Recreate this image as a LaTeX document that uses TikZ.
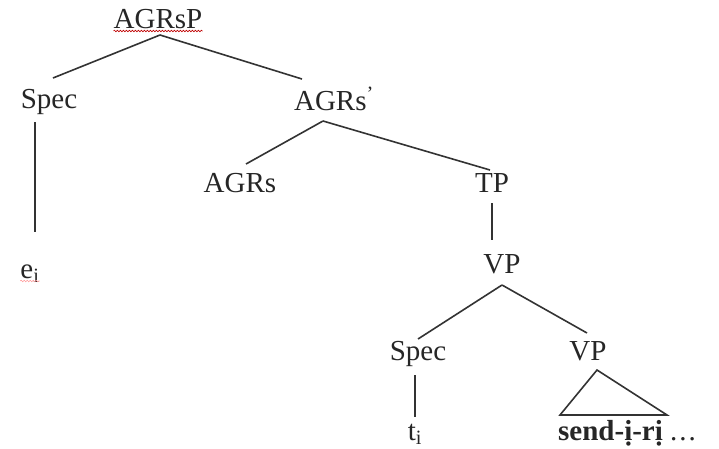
\documentclass[tikz,border=0pt]{standalone}
\usepackage{fontspec}
\setmainfont{Liberation Serif}
\usetikzlibrary{decorations.pathmorphing}
\begin{document}
\begin{tikzpicture}[x=1pt,y=-1pt,
  lbl/.style={font=\fontsize{29}{34}\selectfont, inner sep=0pt, anchor=base, text=black!85},
  edge/.style={line width=1.6pt, draw=black!80},
  squig/.style={draw=red!75!black, line width=0.6pt, decorate,
    decoration={snake, amplitude=0.8pt, segment length=3pt}}]
\useasboundingbox (0,0) rectangle (719,448);
\node[lbl] (agrsp) at (158,28) {AGRsP};
\node[lbl] (spec1) at (49,108) {Spec};
\node[lbl] (ei) at (30,278) {e\textsubscript{i}};
\node[lbl] (agrsbar) at (334,110) {AGRs\textsuperscript{'}};
\node[lbl] (agrs) at (240,192) {AGRs};
\node[lbl] (tp) at (492,192) {TP};
\node[lbl] (vp1) at (502,273) {VP};
\node[lbl] (spec2) at (418,360) {Spec};
\node[lbl] (vp2) at (588,360) {VP};
\node[lbl] (ti) at (415,440) {t\textsubscript{i}};
\node[lbl, anchor=base west] (send) at (558,440) {\textbf{send-ị-rị} .\hspace{2pt}.\hspace{2pt}.};
% spell-check squiggles
\draw[squig] ([yshift=-3pt]agrsp.base west) -- ([yshift=-3pt]agrsp.base east);
\draw[squig, draw=red!40] ([yshift=-3pt]ei.base west) -- ([yshift=-3pt]ei.base east);
% edges
\draw[edge] ([shift={(2pt,-7pt)}]agrsp.base) -- ([shift={(4pt,30pt)}]spec1.base);
\draw[edge] ([shift={(2pt,-7pt)}]agrsp.base) -- ([shift={(-32pt,31pt)}]agrsbar.base);
\draw[edge] ([shift={(-14pt,-14pt)}]spec1.base) -- ([shift={(5pt,46pt)}]ei.base);
\draw[edge] ([shift={(-11pt,-11pt)}]agrsbar.base) -- ([shift={(6pt,28pt)}]agrs.base);
\draw[edge] ([shift={(-11pt,-11pt)}]agrsbar.base) -- ([shift={(-2pt,22pt)}]tp.base);
\draw[edge] ([shift={(0pt,-11pt)}]tp.base) -- ([shift={(-10pt,33pt)}]vp1.base);
\draw[edge] ([shift={(0pt,-12pt)}]vp1.base) -- ([shift={(0pt,21pt)}]spec2.base);
\draw[edge] ([shift={(0pt,-12pt)}]vp1.base) -- ([shift={(-1pt,27pt)}]vp2.base);
\draw[edge] ([shift={(-3pt,-15pt)}]spec2.base) -- ([shift={(0pt,23pt)}]ti.base);
\draw[edge, line join=miter] ([shift={(9pt,-10pt)}]vp2.base) -- ([shift={(-28pt,-55pt)}]vp2.base) -- ([shift={(79pt,-55pt)}]vp2.base) -- cycle;
\end{tikzpicture}
\end{document}
